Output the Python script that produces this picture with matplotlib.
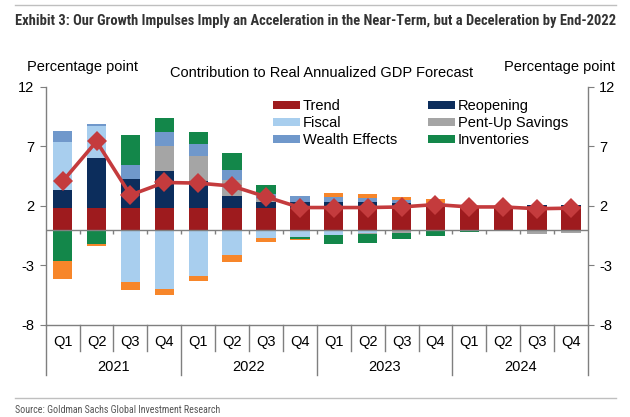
import numpy as np
import matplotlib
matplotlib.use("Agg")
import matplotlib.pyplot as plt
from matplotlib.lines import Line2D
from matplotlib import font_manager

plt.rcParams['font.family'] = ['Liberation Sans', 'DejaVu Sans']

# quarters 2021Q1 .. 2024Q4
quarters = ['Q1', 'Q2', 'Q3', 'Q4'] * 4
years = ['2021', '2022', '2023', '2024']

trend = [1.8, 1.8, 1.8, 1.8, 1.8, 1.8, 1.8, 1.8, 2.0, 2.0, 2.0, 2.0, 2.0, 2.0, 2.0, 2.0]
reopening = [1.55, 4.2, 2.45, 3.15, 2.3, 1.0, 0.55, 0.55, 0.35, 0.35, 0.2, 0.05, 0.0, 0.0, 0.1, 0.1]
fiscal = [4.0, 2.65, -4.4, -5.0, -3.9, -2.1, -0.7, -0.6, -0.45, -0.25, 0.0, 0.0, 0.0, 0.0, 0.0, 0.0]
pent_up = [0.0, 0.0, 0.0, 2.1, 2.05, 1.4, 0.2, 0.0, 0.0, -0.1, -0.3, -0.1, -0.05, -0.15, -0.35, -0.3]
wealth = [0.9, 0.2, 1.2, 1.1, 1.0, 0.8, 0.45, 0.45, 0.35, 0.3, 0.25, 0.15, 0.0, 0.0, 0.0, 0.0]
inventories = [-2.6, -1.2, 2.45, 1.25, 1.05, 1.4, 0.75, -0.15, -0.78, -0.75, -0.5, -0.4, -0.15, 0.0, 0.0, 0.0]
other = [-1.55, -0.15, -0.65, -0.5, -0.4, -0.6, -0.3, -0.1, 0.4, 0.35, 0.3, 0.4, 0.0, 0.0, 0.0, 0.0]
gdp = [4.05, 7.4, 2.9, 3.95, 3.9, 3.65, 2.75, 1.85, 1.85, 1.85, 1.9, 2.1, 1.9, 1.9, 1.75, 1.8]

series = [
    ('Trend', trend, '#9E1B1E'),
    ('Reopening', reopening, '#0C2D5C'),
    ('Fiscal', fiscal, '#A8CEEE'),
    ('Pent-Up Savings', pent_up, '#A5A5A5'),
    ('Wealth Effects', wealth, '#7098CB'),
    ('Inventories', inventories, '#13874A'),
    ('Other', other, '#F7862A'),
]

W, H = 630, 417
fig = plt.figure(figsize=(W / 100, H / 100), dpi=100)

def fx(px):
    return px / W

def fy(py):
    return 1 - py / H

ax = fig.add_axes([fx(45.7), fy(325), fx(588) - fx(45.7), fy(86.5) - fy(325)])

x = np.arange(len(quarters))
pos_base = np.zeros(len(x))
neg_base = np.zeros(len(x))
handles = {}
for name, vals, col in series:
    v = np.array(vals)
    base = np.where(v >= 0, pos_base, neg_base)
    b = ax.bar(x, v, 0.57, bottom=base, color=col, linewidth=0, zorder=2)
    handles[name] = b
    pos_base += np.where(v > 0, v, 0)
    neg_base += np.where(v < 0, v, 0)

ax.plot(x, gdp, color='#C43B3D', lw=2.6, marker='D', markersize=10,
        markeredgewidth=0, zorder=4)

axis_col = '#7F7F7F'
ax.set_xlim(-0.5, len(x) - 0.5)
ax.set_ylim(-8, 12)
ax.set_yticks([12, 7, 2, -3, -8])
ax.set_yticklabels(['12', '7', '2', '-3', '-8'])
ax.yaxis.set_ticks_position('both')
ax.tick_params(axis='y', direction='out', length=4, color=axis_col,
               labelsize=10.5, labelright=True, pad=4)
ax.tick_params(axis='x', bottom=False, labelbottom=False)
for s in ['left', 'right', 'bottom']:
    ax.spines[s].set_color(axis_col)
    ax.spines[s].set_linewidth(1)
ax.spines['top'].set_visible(False)

# zero line with small category ticks
ax.axhline(0, color=axis_col, lw=1, zorder=3)
ax.vlines(x[1:] - 0.5, -0.33, 0, color=axis_col, lw=1, zorder=3)

# category label box below the plot
tr = ax.get_xaxis_transform()
for k in range(len(x) + 1):
    bottom = -0.21 if k % 4 == 0 else -0.108
    ax.plot([k - 0.5, k - 0.5], [0, bottom], transform=tr, color=axis_col,
            lw=1, clip_on=False)
for k, q in enumerate(quarters):
    ax.text(k, -0.07, q, transform=tr, ha='center', va='center', fontsize=10.5)
for k, yr in enumerate(years):
    ax.text(4 * k + 1.5, -0.177, yr, transform=tr, ha='center', va='center',
            fontsize=10.5)

order = ['Trend', 'Fiscal', 'Wealth Effects', 'Reopening', 'Pent-Up Savings', 'Inventories']
leg = fig.legend([handles[n] for n in order], order, ncol=2, frameon=False,
                 loc='upper left', bbox_to_anchor=(fx(273), fy(99)),
                 fontsize=10.5, handlelength=1.85, handleheight=0.5,
                 handletextpad=0.2, columnspacing=2.1, labelspacing=0.22,
                 borderpad=0, borderaxespad=0)

# narrow font for title / source if there is one, else fit the width
installed = {f.name for f in font_manager.fontManager.ttflist}
narrow = [f for f in ['Liberation Sans Narrow', 'Roboto Condensed', 'Open Sans Condensed',
                      'Arial Narrow'] if f in installed] + ['Roboto', 'DejaVu Sans']

def fit_text(t, width_px):
    r = fig.canvas.get_renderer()
    w = t.get_window_extent(renderer=r).width
    t.set_fontsize(t.get_fontsize() * width_px / w)

title = fig.text(fx(15), fy(21.5), 'Exhibit 3: Our Growth Impulses Imply an Acceleration in the Near-Term, but a Deceleration by End-2022',
                 family=narrow, fontweight='bold', fontsize=10, color='#333333',
                 ha='left', va='center')
fit_text(title, 599)
fig.text(fx(27), fy(67.5), 'Percentage point', fontsize=10.5, ha='left', va='center')
fig.text(fx(615), fy(67.5), 'Percentage point', fontsize=10.5, ha='right', va='center')
fig.text(fx(322), fy(73), 'Contribution to Real Annualized GDP Forecast', fontsize=10.5,
         ha='center', va='center')
src = fig.text(fx(15), fy(410), 'Source: Goldman Sachs Global Investment Research',
               family=narrow, fontsize=8, color='#555555', ha='left', va='center')
fit_text(src, 207)

for py in (5, 398):
    fig.add_artist(Line2D([fx(15), fx(616)], [fy(py), fy(py)], color='#BFBFBF', lw=1))

fig.savefig('out.png', dpi=100)
